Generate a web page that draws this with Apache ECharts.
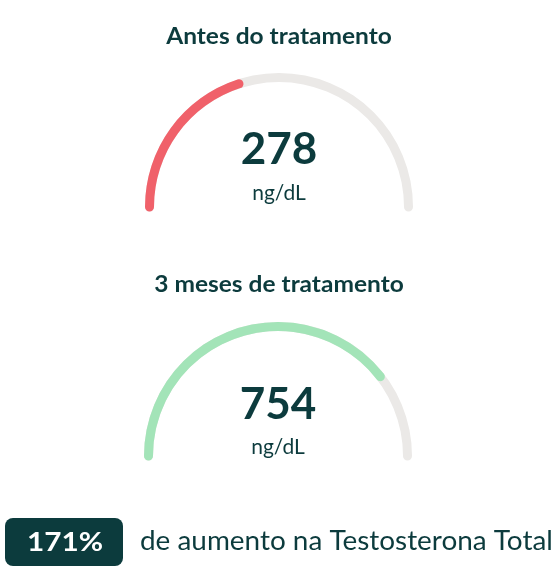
<!DOCTYPE html>
<html>
<head>
<meta charset="utf-8">
<script src="https://cdn.jsdelivr.net/npm/echarts@6/dist/echarts.min.js"></script>
<style>
html,body{margin:0;padding:0;background:#fff;}
#c{width:558px;height:582px;}
</style>
</head>
<body>
<div id="c"></div>
<script>
const headings = ['Antes do tratamento', '3 meses de tratamento'];
const values = [278, 754];
const arcPercent = [40, 79];
const unit = 'ng/dL';
const increase = '171%';
const increaseText = 'de aumento na Testosterona Total';

const dark = '#0c3b3d';
const colors = ['#f0616a', '#a3e4b8'];
const centers = [[279, 207], [278, 456]];
const numOffsets = [-57, -51];
const unitOffsets = [-14, -9];
const headingY = [37, 285];
const font = 'Lato';

const chart = echarts.init(document.getElementById('c'));

const series = values.map((v, i) => ({
  type: 'gauge',
  center: centers[i],
  radius: 134,
  startAngle: 180,
  endAngle: 0,
  min: 0,
  max: 100,
  pointer: {show: false},
  axisTick: {show: false},
  splitLine: {show: false},
  axisLabel: {show: false},
  anchor: {show: false},
  progress: {show: true, width: 9, roundCap: true, itemStyle: {color: colors[i]}},
  axisLine: {roundCap: true, lineStyle: {width: 9, color: [[1, '#ebe9e7']]}},
  title: {
    offsetCenter: [0, unitOffsets[i]],
    color: dark, fontFamily: font, fontSize: 21, fontWeight: 'normal'
  },
  detail: {
    offsetCenter: [0, numOffsets[i]],
    color: dark, fontFamily: font, fontSize: 44, fontWeight: 'bold',
    formatter: () => String(values[i])
  },
  data: [{value: arcPercent[i], name: unit}]
}));

const graphics = headings.map((h, i) => ({
  type: 'text',
  x: 279, y: headingY[i],
  scaleX: 1.065,
  style: {text: h, fill: dark, font: 'bold 23px ' + font, textAlign: 'center', textVerticalAlign: 'middle'}
}));
graphics.push({
  type: 'rect',
  shape: {x: 5, y: 518, width: 118, height: 48, r: 8},
  style: {fill: '#0c3b3d'}
});
graphics.push({
  type: 'text',
  x: 65, y: 542,
  scaleX: 1.1,
  style: {text: increase, fill: '#ffffff', font: 'bold 27px ' + font, textAlign: 'center', textVerticalAlign: 'middle'}
});
graphics.push({
  type: 'text',
  x: 140, y: 542,
  scaleX: 1.073,
  style: {text: increaseText, fill: dark, font: '26px ' + font, textAlign: 'left', textVerticalAlign: 'middle'}
});

chart.setOption({
  animation: false,
  series: series,
  graphic: graphics
});
</script>
</body>
</html>
